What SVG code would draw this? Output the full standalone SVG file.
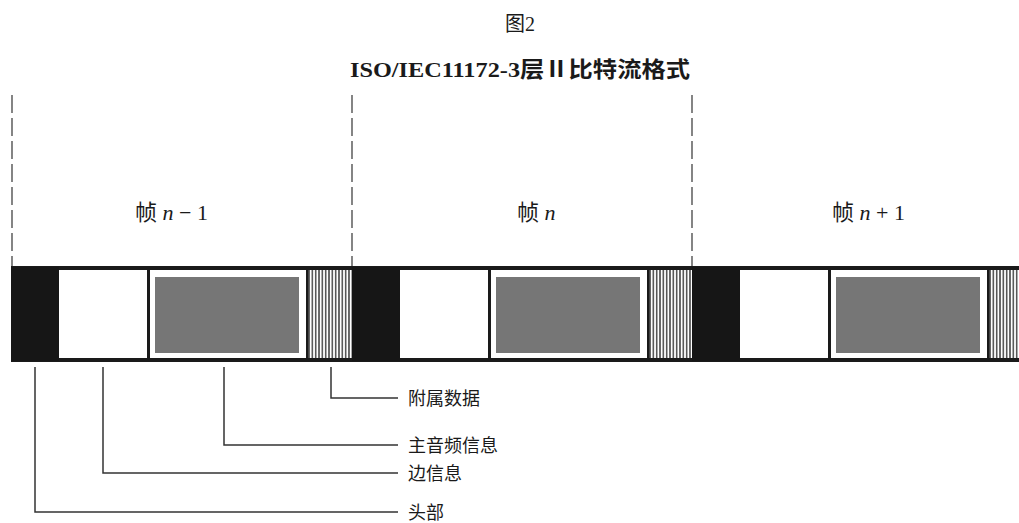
<svg xmlns="http://www.w3.org/2000/svg" width="1019" height="523" viewBox="0 0 1019 523">
<defs>
<style>
.t{font-family:"Liberation Serif","Noto Sans CJK SC",serif;fill:#1a1a1a}
.lead{fill:none;stroke:#333;stroke-width:1.5}
.dash{fill:none;stroke:#444;stroke-width:1.3;stroke-dasharray:18 5}
.blk{fill:#161616}
.gry{fill:#767676}
.sep{fill:#1a1a1a}
</style>
<pattern id="hatch" x="0" y="0" width="3.33" height="10" patternUnits="userSpaceOnUse">
<rect width="3.33" height="10" fill="#fff"/>
<rect x="1" width="1.3" height="10" fill="#2a2a2a"/>
</pattern>
<g id="frame">
<rect class="blk" x="0" y="267" width="48" height="94"/>
<rect fill="#fff" x="48" y="270" width="88" height="88"/>
<rect class="sep" x="136" y="267" width="3" height="94"/>
<rect fill="#fff" x="139" y="270" width="156" height="88"/>
<rect class="gry" x="144" y="277" width="144" height="76"/>
<rect class="sep" x="295" y="267" width="2.5" height="94"/>
<rect fill="url(#hatch)" x="297.5" y="270" width="43.5" height="88"/>
</g>
</defs>
<rect width="1019" height="523" fill="#fff"/>
<g id="titles">
<text class="t" x="520" y="31" font-size="20" text-anchor="middle">图2</text>
<text class="t" x="520" y="77" font-size="22" font-weight="bold" text-anchor="middle" textLength="340" lengthAdjust="spacingAndGlyphs">ISO/IEC11172-3层Ⅱ比特流格式</text>
</g>
<g id="boundaries">
<line class="dash" x1="12" y1="95" x2="12" y2="267"/>
<line class="dash" x1="352" y1="95" x2="352" y2="267"/>
<line class="dash" x1="692" y1="95" x2="692" y2="267"/>
</g>
<g id="frame-labels">
<text class="t" x="135" y="220" font-size="22">帧 <tspan font-style="italic">n</tspan> − 1</text>
<text class="t" x="517" y="220" font-size="22">帧 <tspan font-style="italic">n</tspan></text>
<text class="t" x="832" y="220" font-size="22">帧 <tspan font-style="italic">n</tspan> + 1</text>
</g>
<g id="bitstream">
<rect x="0" y="266" width="1019" height="96" fill="#1a1a1a"/>
<use href="#frame" transform="translate(11,0)"/>
<use href="#frame" transform="translate(352,0)"/>
<use href="#frame" transform="translate(692,0)"/>
<rect x="0" y="266" width="11" height="96" fill="#fff"/>
</g>
<g id="connectors">
<polyline class="lead" points="331,367 331,398 398,398"/>
<polyline class="lead" points="224,367 224,445 398,445"/>
<polyline class="lead" points="103,367 103,473 398,473"/>
<polyline class="lead" points="35,367 35,512 398,512"/>
</g>
<g id="legend">
<text class="t" x="408" y="404.5" font-size="18">附属数据</text>
<text class="t" x="408" y="451.5" font-size="18">主音频信息</text>
<text class="t" x="408" y="479.5" font-size="18">边信息</text>
<text class="t" x="408" y="518.5" font-size="18">头部</text>
</g>
</svg>
